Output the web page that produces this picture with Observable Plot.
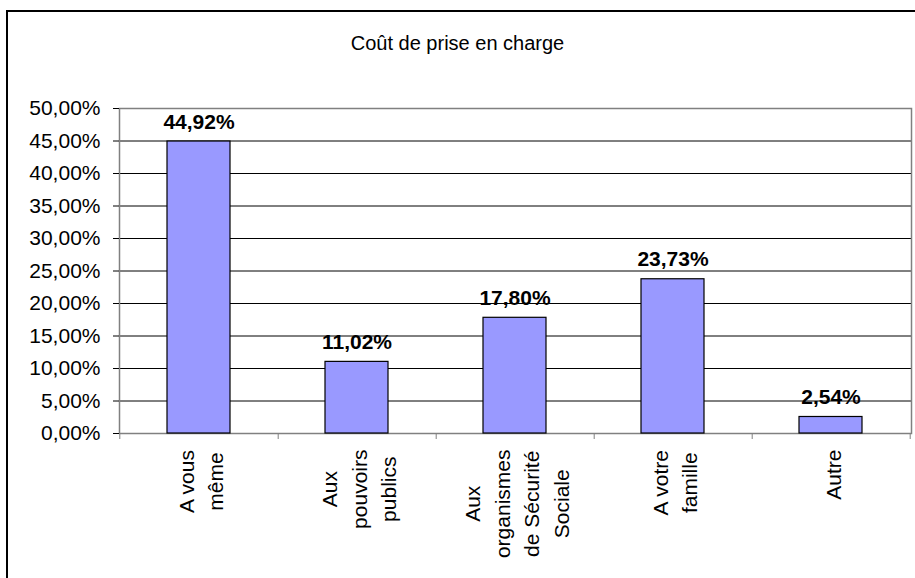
<!DOCTYPE html>
<html>
<head>
<meta charset="utf-8">
<script src="https://cdn.jsdelivr.net/npm/d3@7"></script>
<script src="https://cdn.jsdelivr.net/npm/@observablehq/plot@0.6"></script>
<style>
  html, body { margin: 0; padding: 0; background: #fff; }
  #wrap { position: relative; width: 915px; height: 578px; overflow: hidden; background: #fff;
          font-family: "Liberation Sans", Arial, sans-serif; }
  #border { position: absolute; left: 6px; top: 10px; width: 940px; height: 620px; border: 2px solid #000; box-sizing: border-box; }
  #title { position: relative; height: 60px; box-sizing: border-box; padding-top: 33px; text-align: center;
           font-size: 20px; line-height: 1; color: #000; }
  #chart { position: relative; }
</style>
</head>
<body>
<div id="wrap">
  <div id="border"></div>
  <div id="title">Coût de prise en charge</div>
  <div id="chart"></div>
</div>
<script>
const categories = ["A vous\nmême", "Aux\npouvoirs\npublics", "Aux\norganismes\nde Sécurité\nSociale", "A votre\nfamille", "Autre"];
const values = [44.92, 11.02, 17.80, 23.73, 2.54];
const yTicks = [0, 5, 10, 15, 20, 25, 30, 35, 40, 45, 50];

const data = categories.map((c, i) => ({category: c, value: values[i]}));
const fmt = v => v.toFixed(2).replace(".", ",") + "%";

const W = 915, H = 518;
const mL = 119, mR = 4, mT = 48, mB = 145;
const padIn = 0.6, padOut = 0.3;
const step = (W - mL - mR) / (categories.length - padIn + 2 * padOut);

const ctx = document.createElement("canvas").getContext("2d");
const xFont = 21;
ctx.font = `${xFont}px "Liberation Sans", Arial, sans-serif`;
const maxLine = s => Math.max(...s.split("\n").map(l => ctx.measureText(l).width));

const xLabelMarks = categories.map(c => Plot.text([c], {
  x: d => d, text: d => d, frameAnchor: "bottom", rotate: -90,
  textAnchor: "middle", lineAnchor: "middle", lineHeight: 1.42,
  fontSize: xFont, fill: "#000", dy: 16 + maxLine(c) / 2
}));

const chart = Plot.plot({
  width: W, height: H,
  marginLeft: mL, marginRight: mR, marginTop: mT, marginBottom: mB,
  style: {fontFamily: '"Liberation Sans", Arial, sans-serif', background: "transparent", color: "#000"},
  x: {domain: categories, paddingInner: padIn, paddingOuter: padOut, axis: null},
  y: {domain: [0, 50], axis: null},
  marks: [
    Plot.ruleY(yTicks.filter(v => v > 0 && v < 50), {stroke: "#000", strokeWidth: 1}),
    Plot.frame({stroke: "#808080", strokeWidth: 1.5}),
    Plot.axisY({ticks: yTicks, tickSize: 6, tickPadding: 13, tickFormat: fmt, fontSize: 21, stroke: "#000", fill: "#000", label: null}),
    Plot.axisX({tickSize: 6, tickFormat: () => "", dx: step / 2, stroke: "#808080", label: null}),
    Plot.axisX({ticks: [categories[0]], tickSize: 6, tickFormat: () => "", dx: -step / 2, stroke: "#808080", label: null}),
    Plot.barY(data, {x: "category", y: "value", fill: "#9999FF", stroke: "#000", strokeWidth: 1.2}),
    Plot.text(data, {x: "category", y: "value", text: d => fmt(d.value), lineAnchor: "bottom", dy: -13,
                     fontSize: 21, fontWeight: "bold", fill: "#000"}),
    ...xLabelMarks
  ]
});
document.getElementById("chart").appendChild(chart);
</script>
</body>
</html>
